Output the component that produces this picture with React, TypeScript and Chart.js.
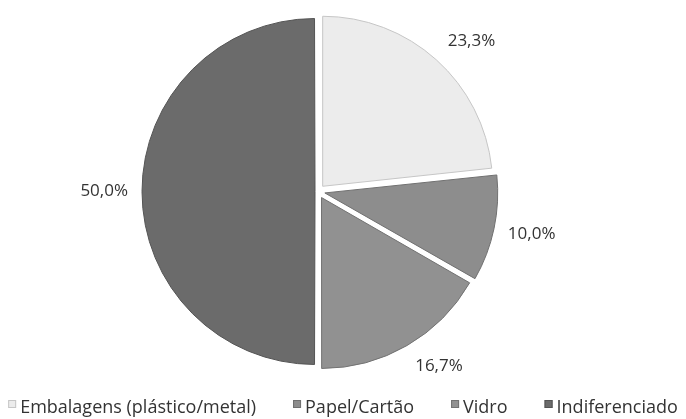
import React, { useEffect, useRef } from "react";
import { Chart, registerables } from "chart.js";

Chart.register(...registerables);

const categories = ["Embalagens (plástico/metal)", "Papel/Cartão", "Vidro", "Indiferenciado"];
const values = [23.3, 10.0, 16.7, 50.0];
const valueLabels = ["23,3%", "10,0%", "16,7%", "50,0%"];
const sliceColors = ["#ececec", "#8d8d8d", "#919191", "#6b6b6b"];
const borderColors = ["#c6c6c6", "#707070", "#727272", "#545454"];
const explodePx = [7, 7, 7, 3];

const FONT = '"Open Sans", sans-serif';
const TEXT_COLOR = "#333333";

const labelPlugin = {
  id: "outsideLabels",
  afterDatasetsDraw(chart: any) {
    const ctx = chart.ctx as CanvasRenderingContext2D;
    const meta = chart.getDatasetMeta(0);
    ctx.save();
    ctx.font = `17px ${FONT}`;
    ctx.fillStyle = TEXT_COLOR;
    ctx.textAlign = "center";
    ctx.textBaseline = "middle";
    const clamp = (v: number) => Math.max(-1, Math.min(1, v * 2));
    meta.data.forEach((arc: any, i: number) => {
      const { x, y, startAngle, endAngle, outerRadius } = arc.getProps(
        ["x", "y", "startAngle", "endAngle", "outerRadius"],
        true
      );
      const mid = (startAngle + endAngle) / 2;
      const ux = Math.cos(mid);
      const uy = Math.sin(mid);
      const dist = explodePx[i] + outerRadius + 17;
      const px = x + ux * dist;
      const py = y + uy * dist;
      const text = valueLabels[i];
      const w = ctx.measureText(text).width;
      const h = 13;
      ctx.fillText(text, px + (clamp(ux) * w) / 2, py + (clamp(uy) * h) / 2);
    });
    ctx.restore();
  },
};

const legendPlugin = {
  id: "customLegend",
  afterDraw(chart: any) {
    const ctx = chart.ctx as CanvasRenderingContext2D;
    ctx.save();
    ctx.font = `18px ${FONT}`;
    const box = 8;
    const gapText = 4;
    const gapItem = 37;
    const widths = categories.map((c) => ctx.measureText(c).width);
    const total =
      widths.reduce((a, w) => a + box + gapText + w, 0) + gapItem * (categories.length - 1);
    let x = (chart.width - total) / 2;
    const baseline = chart.height - 6.5;
    ctx.textAlign = "left";
    ctx.textBaseline = "alphabetic";
    categories.forEach((c, i) => {
      ctx.fillStyle = sliceColors[i];
      ctx.fillRect(x, baseline - 12.5, box, box);
      ctx.strokeStyle = borderColors[i];
      ctx.lineWidth = 1;
      ctx.strokeRect(x + 0.5, baseline - 12, box - 1, box - 1);
      ctx.fillStyle = TEXT_COLOR;
      ctx.fillText(c, x + box + gapText, baseline);
      x += box + gapText + widths[i] + gapItem;
    });
    ctx.restore();
  },
};

export default function App() {
  const ref = useRef<HTMLCanvasElement>(null);
  useEffect(() => {
    if (!ref.current) return;
    const chart = new Chart(ref.current, {
      type: "pie",
      data: {
        labels: categories,
        datasets: [
          {
            data: values,
            backgroundColor: sliceColors,
            borderColor: borderColors,
            borderWidth: 1,
            offset: explodePx.map((t) => t * 4),
            clip: false,
          } as any,
        ],
      },
      options: {
        responsive: false,
        animation: false,
        radius: 170,
        layout: { padding: { left: 0, top: 0, right: 50, bottom: 36 } },
        plugins: {
          legend: { display: false },
          tooltip: { enabled: false },
        },
      } as any,
      plugins: [labelPlugin, legendPlugin],
    });
    return () => chart.destroy();
  }, []);
  return (
    <div style={{ position: "fixed", left: 0, top: 0, width: 686, height: 419, background: "#fff" }}>
      <canvas ref={ref} width={686} height={419} style={{ display: "block" }} />
    </div>
  );
}
